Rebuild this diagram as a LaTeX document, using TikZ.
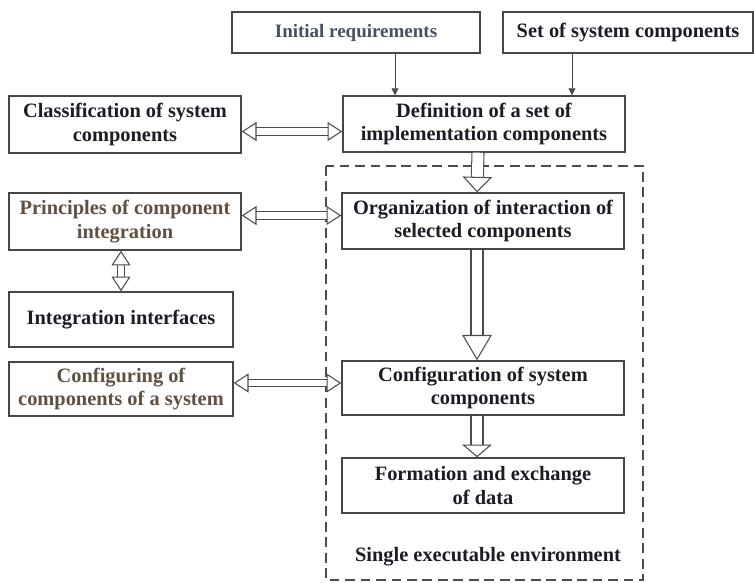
\documentclass[tikz,border=0pt]{standalone}
\usepackage{fontspec}
\setmainfont{Liberation Serif}
\usetikzlibrary{arrows.meta,calc}

\definecolor{inkdark}{RGB}{28,28,36}
\definecolor{inkslate}{RGB}{72,80,96}
\definecolor{inkbrown}{RGB}{96,80,66}
\definecolor{boxline}{RGB}{70,70,70}

\begin{document}
\begin{tikzpicture}[
  x=0.025cm, y=-0.025cm,
  stage/.style={draw=boxline, line width=1pt, fill=white, inner sep=2pt, align=center, font=\fontsize{14.5}{16.5}\selectfont\bfseries, text=inkdark},
  feed/.style={-{Triangle[length=5pt,width=5pt]}, draw=black!70, line width=0.6pt},
  hollow/.style={draw=black!70, line width=0.75pt, double=white, double distance=#1},
  linkpair/.style={hollow=4.3pt, {Triangle[open,length=10.5pt,width=13.5pt,line width=0.75pt]}-{Triangle[open,length=10.5pt,width=13.5pt,line width=0.75pt]}},
  flow/.style={hollow=7.8pt, -{Triangle[open,length=#1,width=21pt,line width=0.75pt]}},
  flow/.default=12pt,
  envframe/.style={draw=black!70, line width=1pt, dash pattern=on 7pt off 4pt}
]
  \useasboundingbox (0,0) rectangle (754,583);
  \draw[envframe] (326,166) rectangle (643,580);

  % inputs
  \node[stage, minimum width=6.2cm, minimum height=1.025cm, font=\fontsize{13.5}{15}\selectfont\bfseries, text=inkslate] (init) at (356,32.5) {Initial requirements};
  \node[stage, minimum width=6.25cm, minimum height=1.025cm] (setc) at (628,32.5) {Set of system components};

  % left column
  \node[stage, minimum width=5.8cm, minimum height=1.425cm] (classif) at (125,124.5) {Classification of system\\components};
  \node[stage, minimum width=5.8cm, minimum height=1.425cm, text=inkbrown] (princ) at (125,221.5) {Principles of component\\integration};
  \node[stage, minimum width=5.6cm, minimum height=1.375cm] (integ) at (121,319.5) {Integration interfaces};
  \node[stage, minimum width=5.6cm, minimum height=1.35cm, text=inkbrown] (confg) at (121,389) {Configuring of\\components of a system};

  % main column
  \node[stage, minimum width=7.05cm, minimum height=1.4cm] (defin) at (484,124) {Definition of a set of\\implementation components};
  \node[stage, minimum width=7.05cm, minimum height=1.4cm] (organ) at (483,221) {Organization of interaction of\\selected components};
  \node[stage, minimum width=7.05cm, minimum height=1.35cm] (confs) at (483,388) {Configuration of system\\components};
  \node[stage, minimum width=7.05cm, minimum height=1.375cm] (formx) at (483,485.5) {Formation and exchange\\of data};
  \node[font=\fontsize{14.5}{16.5}\selectfont\bfseries, text=inkdark] (envlabel) at (488,557) {Single executable environment};

  % connectors
  \draw[feed] ([xshift=0.975cm]init.south) -- ([xshift=0.975cm]init.south |- defin.north);
  \draw[feed] ([xshift=-1.4cm]setc.south) -- ([xshift=-1.4cm]setc.south |- defin.north);

  \draw[linkpair] ([yshift=-0.175cm]classif.east) -- ([yshift=-0.175cm]classif.east -| defin.west);
  \draw[linkpair] ([yshift=0.15cm]princ.east) -- ([yshift=0.15cm]princ.east -| organ.west);
  \draw[linkpair] ([yshift=0.15cm]confg.east) -- ([yshift=0.15cm]confg.east -| confs.west);
  \draw[linkpair] (integ.north |- princ.south) -- (integ.north);

  \draw[flow=11pt] ([xshift=-0.15cm]defin.south) -- ([xshift=-0.15cm]organ.north);
  \draw[flow=18pt] ([xshift=-0.15cm]organ.south) -- ([xshift=-0.15cm]confs.north);
  \draw[flow=9pt] ([xshift=-0.15cm]confs.south) -- ([xshift=-0.15cm]formx.north);
\end{tikzpicture}
\end{document}
